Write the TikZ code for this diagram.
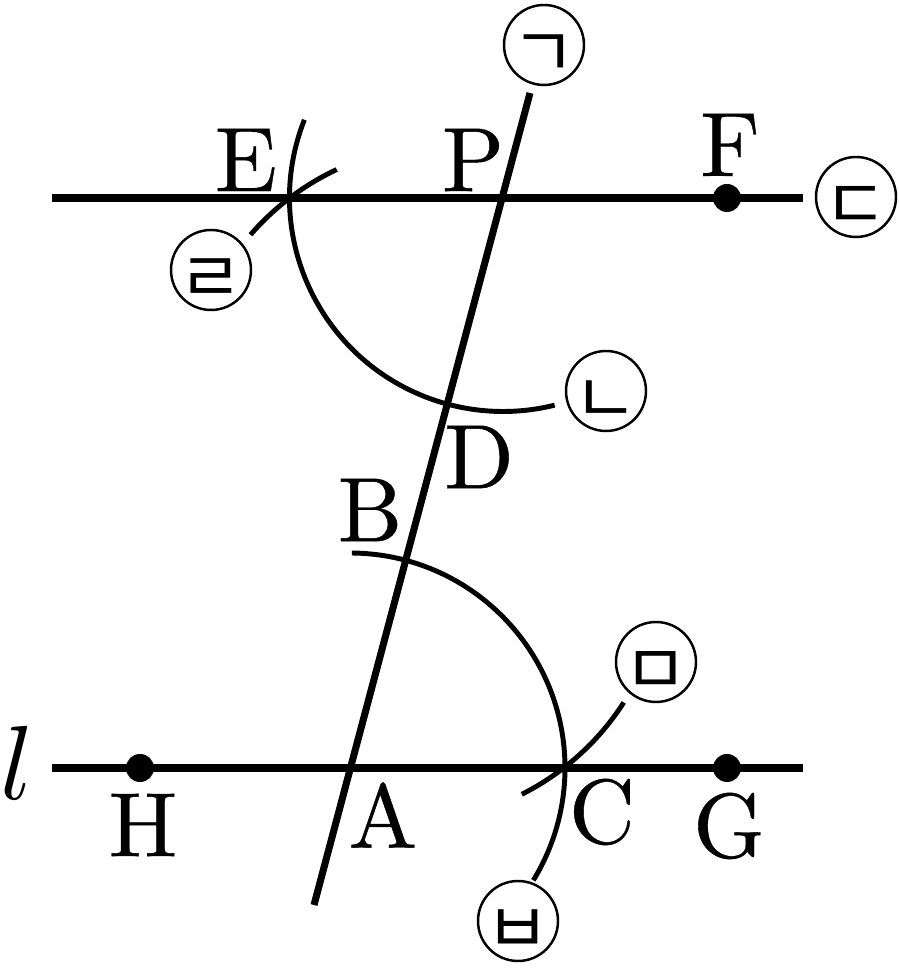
\documentclass[tikz,border=0pt]{standalone}
\usepackage{fontspec}
\newfontfamily\jamofont{Noto Sans CJK KR}
\newfontfamily\letterfont{lmroman10-regular}[Extension=.otf,FakeBold=0.4]
\newcommand{\jamotext}[1]{\makebox[0pt]{\raisebox{-0.65cm}[0pt][0pt]{#1}}}
\usetikzlibrary{positioning}
\tikzset{
  letter/.style={font=\letterfont\fontsize{52}{52}\selectfont,inner sep=0pt},
  lsym/.style={scale=6,inner sep=0pt},
  jamo/.style={draw,circle,line width=1.4pt,minimum size=1.6cm,inner sep=0pt,font=\jamofont\fontsize{40}{40}\selectfont},
  mainline/.style={line width=4pt},
  arcline/.style={line width=2.8pt},
  dot/.style={fill=black,circle,minimum size=0.56cm,inner sep=0pt}
}
\begin{document}
\begin{tikzpicture}
  \useasboundingbox (0,0) rectangle (17.96,19.52);
  \coordinate (A) at (7,4.16);
  \coordinate (P) at (10.06,15.56);
  \coordinate (B) at (8.1,8.28);
  \coordinate (D) at (8.94,11.42);
  \coordinate (top) at (10.6,17.66);
  \coordinate (bottom) at (6.28,1.42);
  \coordinate (lineEa) at (1.04,15.56);
  \coordinate (lineEb) at (16.06,15.56);
  \coordinate (lineLa) at (1.04,4.16);
  \coordinate (lineLb) at (16.06,4.16);

  \draw[mainline] (lineEa) -- (lineEb);
  \draw[mainline] (lineLa) -- (lineLb);
  \draw[mainline] (bottom) -- (top);

  \draw[arcline] (A) ++(89.5:4.3) arc[start angle=89.5,end angle=-31.5,radius=4.3];
  \draw[arcline] (P) ++(158.5:4.27) arc[start angle=158.5,end angle=284,radius=4.27];
  \draw[arcline] (D) ++(139.1:5.2) arc[start angle=139.1,end angle=115.1,radius=5.2];
  \draw[arcline] (B) ++(-63.3:5.2) arc[start angle=-63.3,end angle=-32.7,radius=5.2];

  \node[dot] (F) at (14.54,15.56) {};
  \node[dot] (G) at (14.54,4.16) {};
  \node[dot] (H) at (2.8,4.16) {};

  \node[letter] (labelE) at (4.92,16.32) {E};
  \node[letter] (labelP) at (9.46,16.32) {P};
  \node[letter] (labelF) at (14.6,16.62) {F};
  \node[letter] (labelD) at (9.58,10.38) {D};
  \node[letter] (labelB) at (7.4,9.32) {B};
  \node[letter] (labelA) at (7.66,3.22) {A};
  \node[letter] (labelC) at (12.04,3.28) {C};
  \node[letter] (labelG) at (14.58,3) {G};
  \node[letter] (labelH) at (2.86,3.02) {H};
  \node[lsym] (labell) at (0.34,4.26) {$l$};

  \node[jamo] (ga) at (10.88,18.62) {\jamotext{ㄱ}};
  \node[jamo] (na) at (12.12,11.7) {\jamotext{ㄴ}};
  \node[jamo] (da) at (17.12,15.58) {\jamotext{ㄷ}};
  \node[jamo] (ra) at (4.22,14.12) {\jamotext{ㄹ}};
  \node[jamo] (ma) at (13.12,6.28) {\jamotext{ㅁ}};
  \node[jamo] (ba) at (10.36,1.1) {\jamotext{ㅂ}};
\end{tikzpicture}
\end{document}
